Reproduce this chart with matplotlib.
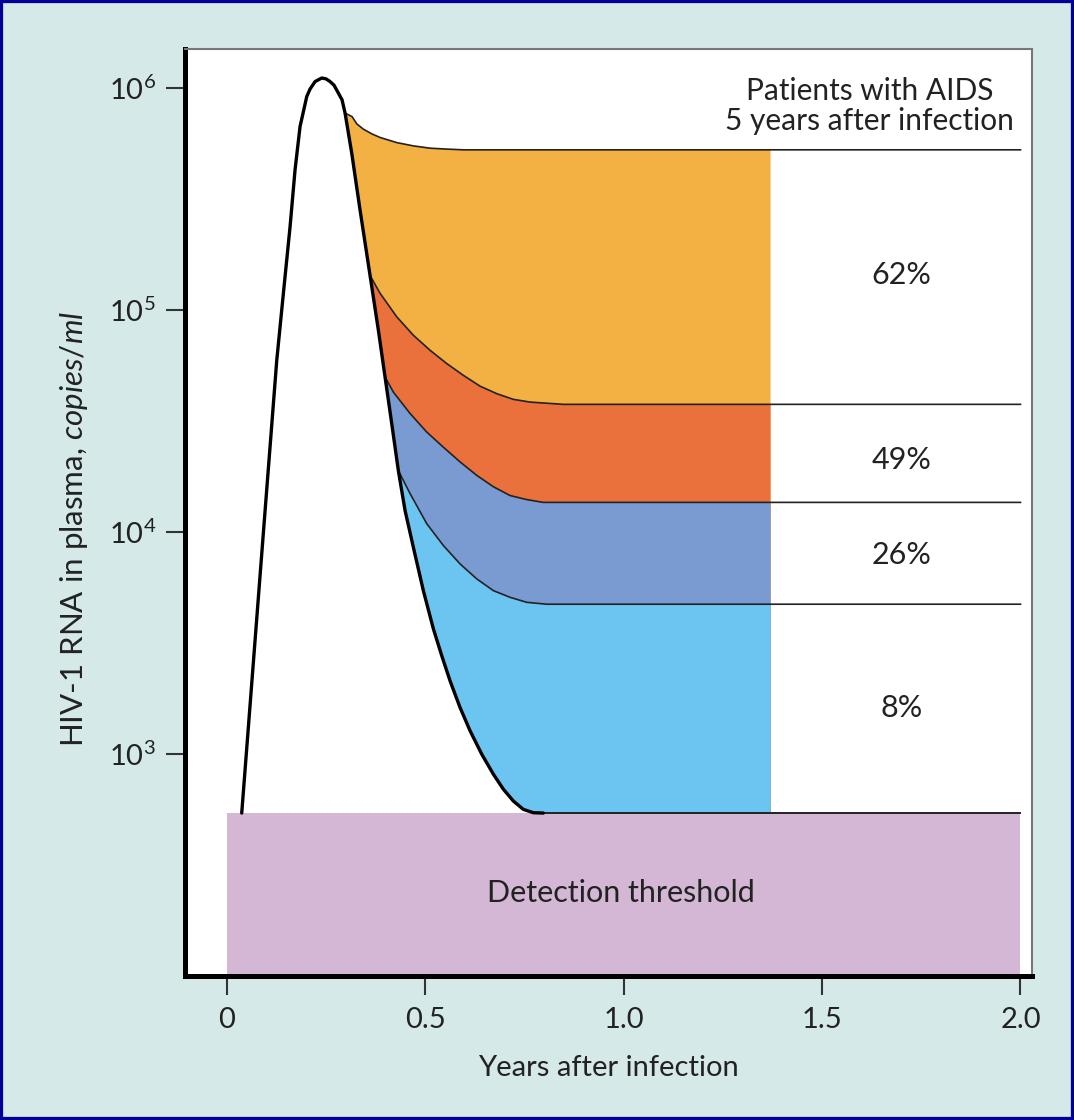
import matplotlib
matplotlib.use("Agg")
import matplotlib.pyplot as plt
from matplotlib.patches import Rectangle

plt.rcParams['font.family'] = ['Lato', 'DejaVu Sans']
plt.rcParams['mathtext.fontset'] = 'custom'
plt.rcParams['mathtext.rm'] = 'Lato'
plt.rcParams['mathtext.it'] = 'Lato:italic'

# values: years after infection, HIV-1 RNA copies/ml
main_x = [0.037, 0.0875, 0.1253, 0.142, 0.1588, 0.1714, 0.184, 0.2009, 0.2092,
          0.2219, 0.2387, 0.2496, 0.2596, 0.2697, 0.2806, 0.2899, 0.2975, 0.3143,
          0.3353, 0.3605, 0.3814, 0.3983, 0.4151, 0.4318, 0.4487, 0.4696, 0.4948,
          0.52, 0.5412, 0.5621, 0.5873, 0.6126, 0.642, 0.6713, 0.6965, 0.7217,
          0.7469, 0.7721, 0.7973]
main_y = [542, 8000, 59400, 1.19e5, 2.37e5, 4.28e5, 6.71e5, 9.16e5, 9.9e5,
          1.07e6, 1.11e6, 1.10e6, 1.07e6, 1.03e6, 9.49e5, 8.85e5, 7.71e5, 5.09e5,
          2.82e5, 1.43e5, 8.12e4, 4.99e4, 3.08e4, 1.89e4, 1.25e4, 8540, 5445,
          3668, 2772, 2137, 1620, 1272, 998, 811, 694, 614,
          563, 544, 542]

# set-point curves for each prognosis group (top to bottom)
top_x = [0.2975, 0.3151, 0.327, 0.3436, 0.3648, 0.3857, 0.4278, 0.4696, 0.5117, 0.5538, 0.5957]
top_y = [7.71e5, 7.44e5, 6.90e5, 6.53e5, 6.22e5, 5.99e5, 5.68e5, 5.49e5, 5.36e5, 5.31e5, 5.27e5]
high_x = [0.3605, 0.3857, 0.4278, 0.4696, 0.5117, 0.5538, 0.5957, 0.6378, 0.6799, 0.7217, 0.7638, 0.8477]
high_y = [1.43e5, 1.19e5, 9.32e4, 7.70e4, 6.59e4, 5.74e4, 5.08e4, 4.54e4, 4.20e4, 3.96e4, 3.85e4, 3.76e4]
mid_x = [0.3983, 0.4192, 0.4613, 0.5034, 0.5453, 0.5873, 0.6294, 0.6713, 0.7134, 0.7555, 0.7973, 0.8394]
mid_y = [4.99e4, 4.27e4, 3.42e4, 2.82e4, 2.41e4, 2.07e4, 1.80e4, 1.60e4, 1.46e4, 1.40e4, 1.36e4, 1.36e4]
low_x = [0.4318, 0.4613, 0.5034, 0.5453, 0.5873, 0.6294, 0.6713, 0.7134, 0.7555, 0.8059]
low_y = [1.89e4, 1.49e4, 1.09e4, 8690, 7185, 6150, 5445, 5080, 4823, 4730]

threshold = 542
fill_end = 1.37
line_end = 2.0

pct_labels = ['62%', '49%', '26%', '8%']
pct_y = [1.44e5, 2.11e4, 7870, 1610]

band_colors = ['#F2B142', '#EA703C', '#799BD1', '#6CC4F0']
bg = '#D6E9E9'
ink = '#222222'

fig = plt.figure(figsize=(10.74, 11.2), dpi=100, facecolor=bg)
ax = fig.add_axes([185 / 1074, 144 / 1120, 847 / 1074, 927 / 1120])
ax.set_facecolor('white')
ax.set_yscale('log')
ax.set_xlim(-0.106, 2.029)
ax.set_ylim(1e2, 10 ** 6.176)

# detection threshold box
ax.fill_between([0, line_end], 1e2, threshold, color='#D3B7D4', lw=0, zorder=1)

curves = [(top_x, top_y), (high_x, high_y), (mid_x, mid_y), (low_x, low_y)]
for (cx, cy), col in zip(curves, band_colors):
    start = next(i for i, v in enumerate(main_x) if v >= cx[0] - 1e-6)
    px = cx + [fill_end, fill_end] + main_x[:start - 1:-1]
    py = cy + [cy[-1], threshold] + main_y[:start - 1:-1]
    ax.fill(px, py, color=col, lw=0, zorder=2)

for cx, cy in curves:
    ax.plot(cx + [line_end], cy + [cy[-1]], color=ink, lw=1.2, zorder=3,
            solid_joinstyle='round')

ax.plot([main_x[-1], line_end], [threshold, threshold], color=ink, lw=1.4, zorder=3)
ax.plot(main_x, main_y, color='black', lw=2.4, zorder=4,
        solid_joinstyle='round', solid_capstyle='round')

ax.text(1.62, 10 ** 5.92, 'Patients with AIDS\n5 years after infection',
        ha='center', va='center', fontsize=21.5, color=ink, linespacing=1.1)
for lab, yv in zip(pct_labels, pct_y):
    ax.text(1.70, yv, lab, ha='center', va='center', fontsize=22, color=ink)
ax.text(0.993, 237, 'Detection threshold', ha='center', va='center',
        fontsize=22, color=ink)

# axes styling
for side in ['left', 'bottom']:
    ax.spines[side].set_linewidth(3.6)
    ax.spines[side].set_color('black')
for side in ['top', 'right']:
    ax.spines[side].set_linewidth(1.5)
    ax.spines[side].set_color('#777777')

ax.set_yticks([1e3, 1e4, 1e5, 1e6])
ax.set_yticklabels([r'$\mathrm{10^{3}}$', r'$\mathrm{10^{4}}$',
                    r'$\mathrm{10^{5}}$', r'$\mathrm{10^{6}}$'])
ax.minorticks_off()
ax.set_xticks([0, 0.5, 1.0, 1.5, 2.0])
ax.set_xticklabels(['0', '0.5', '1.0', '1.5', '2.0'])
ax.tick_params(axis='both', direction='out', length=14, width=1.5,
               color='#333333', labelsize=21, labelcolor=ink)
ax.tick_params(axis='y', pad=7)
ax.tick_params(axis='x', pad=8)

ax.set_xlabel('Years after infection', fontsize=21, color=ink)
ax.xaxis.set_label_coords(0.5, -0.085)
ax.text(-0.131, 0.482, r'HIV-1 RNA in plasma, $\mathit{copies/ml}$',
        transform=ax.transAxes, rotation=90, ha='center', va='center',
        fontsize=22.5, color=ink)

fig.patches.append(Rectangle((0, 0), 1, 1, transform=fig.transFigure,
                             fill=False, edgecolor='#000096', lw=4.5))

fig.savefig('out.png', dpi=100, facecolor=bg)
